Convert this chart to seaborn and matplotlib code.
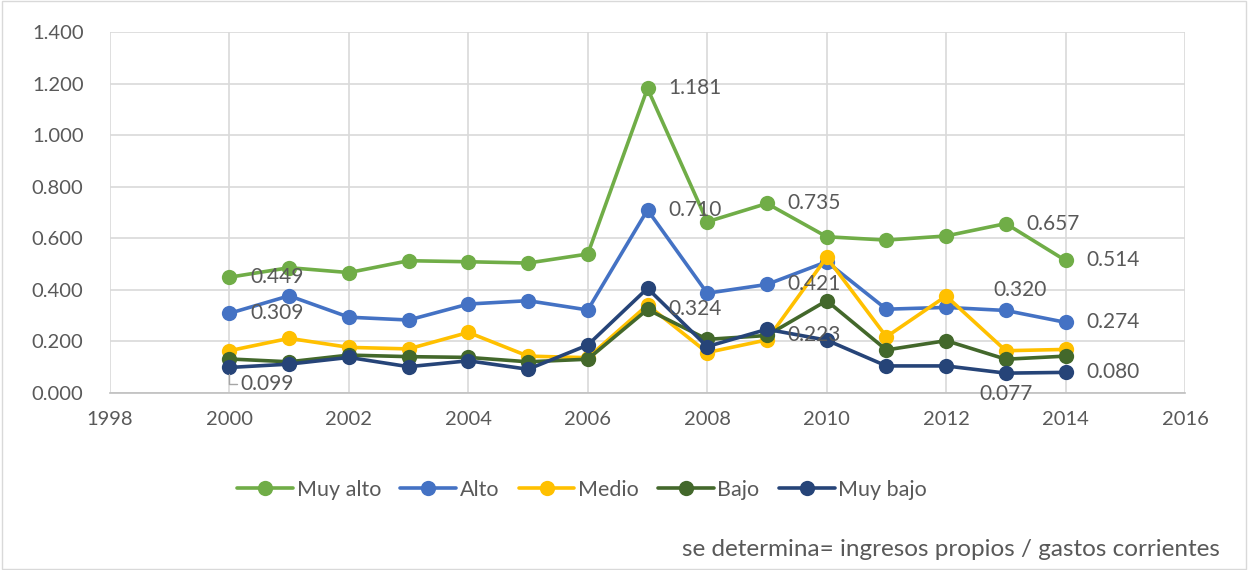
import numpy as np
import pandas as pd
import matplotlib
matplotlib.use("Agg")
import matplotlib.pyplot as plt
from matplotlib.lines import Line2D
from matplotlib.patches import Rectangle
import seaborn as sns

# ---------- data ----------
years = list(range(2000, 2015))
series = ["Muy alto", "Alto", "Medio", "Bajo", "Muy bajo"]
muy_alto = [0.449, 0.486, 0.467, 0.513, 0.509, 0.504, 0.539, 1.181, 0.664, 0.735, 0.606, 0.593, 0.609, 0.657, 0.514]
alto = [0.309, 0.377, 0.294, 0.283, 0.345, 0.358, 0.322, 0.710, 0.387, 0.421, 0.509, 0.325, 0.332, 0.320, 0.274]
medio = [0.164, 0.212, 0.177, 0.171, 0.235, 0.143, 0.137, 0.341, 0.157, 0.206, 0.526, 0.218, 0.376, 0.164, 0.169]
bajo = [0.132, 0.121, 0.147, 0.141, 0.138, 0.121, 0.131, 0.324, 0.208, 0.223, 0.358, 0.167, 0.203, 0.131, 0.143]
muy_bajo = [0.099, 0.112, 0.138, 0.102, 0.125, 0.092, 0.186, 0.406, 0.180, 0.247, 0.205, 0.105, 0.105, 0.077, 0.080]
colors = ["#70AD47", "#4472C4", "#FFC000", "#43682B", "#264478"]

# data labels: (serie, year, position)
labels = [
    ("Muy alto", 2000, "right"), ("Muy alto", 2007, "right"), ("Muy alto", 2009, "right"),
    ("Muy alto", 2013, "right"), ("Muy alto", 2014, "right"),
    ("Alto", 2000, "right"), ("Alto", 2007, "right"), ("Alto", 2009, "right"),
    ("Alto", 2013, "above"), ("Alto", 2014, "right"),
    ("Bajo", 2007, "right"), ("Bajo", 2009, "right"),
    ("Muy bajo", 2000, "leader"), ("Muy bajo", 2013, "below"), ("Muy bajo", 2014, "right"),
]
note = "se determina= ingresos propios / gastos corrientes"

values = dict(zip(series, [muy_alto, alto, medio, bajo, muy_bajo]))
df = pd.DataFrame([(s, y, v) for s in series for y, v in zip(years, values[s])],
                  columns=["serie", "year", "value"])

# ---------- plot ----------
sns.set_theme(style="white")
plt.rcParams["font.family"] = ["Lato", "DejaVu Sans"]
txt = "#595959"
fs = 14.5

fig = plt.figure(figsize=(12.48, 5.70), dpi=100)
ax = fig.add_axes([110 / 1248, 1 - 393 / 570, 1075 / 1248, 361 / 570])

sns.lineplot(data=df, x="year", y="value", hue="serie", hue_order=series,
             palette=colors, marker="o", markersize=11, markeredgewidth=0,
             linewidth=2.6, legend=False, ax=ax)

ax.set_xlim(1998, 2016)
ax.set_ylim(0, 1.4)
ax.set_xticks(range(1998, 2017, 2))
ax.set_yticks(np.arange(0, 1.41, 0.2))
ax.set_yticklabels([f"{v:.3f}" for v in np.arange(0, 1.41, 0.2)])
ax.grid(True, color="#D9D9D9", linewidth=1.2)
ax.set_axisbelow(True)
for s in ["top", "right", "left"]:
    ax.spines[s].set_visible(False)
ax.spines["bottom"].set_color("#BFBFBF")
ax.spines["bottom"].set_linewidth(1.2)
ax.tick_params(axis="both", length=0, labelsize=fs, labelcolor=txt)
ax.tick_params(axis="y", pad=19)
ax.tick_params(axis="x", pad=13)
ax.set_xlabel("")
ax.set_ylabel("")

for s, yr, pos in labels:
    v = values[s][years.index(yr)]
    t = f"{v:.3f}"
    if pos == "right":
        ax.annotate(t, (yr, v), xytext=(15, 0), textcoords="offset points",
                    ha="left", va="center", fontsize=fs + 0.5, color=txt)
    elif pos == "above":
        ax.annotate(t, (yr, v), xytext=(10, 15), textcoords="offset points",
                    ha="center", va="center", fontsize=fs + 0.5, color=txt)
    elif pos == "below":
        ax.annotate(t, (yr, v), xytext=(0, -15), textcoords="offset points",
                    ha="center", va="center", fontsize=fs + 0.5, color=txt)
    else:
        ax.annotate(t, (yr, v), xytext=(8, -12), textcoords="offset points",
                    ha="left", va="center", fontsize=fs + 0.5, color=txt,
                    arrowprops=dict(arrowstyle="-", color="#A6A6A6", lw=1,
                                    shrinkA=0, shrinkB=5,
                                    connectionstyle="angle,angleA=0,angleB=90,rad=0"))

handles = [Line2D([0], [0], color=c, lw=2.6, marker="o", markersize=11,
                  markeredgewidth=0) for c in colors]
fig.legend(handles, series, loc="center", bbox_to_anchor=(582 / 1248, 1 - 490 / 570),
           ncol=5, frameon=False, fontsize=15.5, labelcolor=txt, handlelength=2.6,
           handletextpad=0.15, columnspacing=0.9)

fig.text(1220 / 1248, 1 - 549 / 570, note, ha="right", va="center", fontsize=17.5, color=txt)
fig.patches.append(Rectangle((0.002, 0.002), 0.996, 0.996, transform=fig.transFigure,
                             fill=False, edgecolor="#D9D9D9", linewidth=1))

fig.savefig("out.png", dpi=100)
